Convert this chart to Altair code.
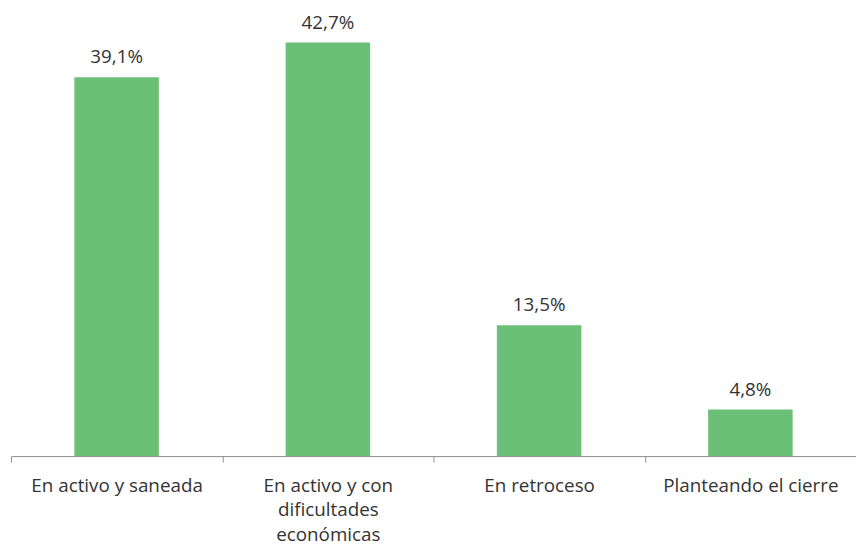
import altair as alt
import pandas as pd

categories = ["En activo y saneada", "En activo y con dificultades económicas", "En retroceso", "Planteando el cierre"]
values = [39.1, 42.7, 13.5, 4.8]
value_labels = ["39,1%", "42,7%", "13,5%", "4,8%"]

df = pd.DataFrame({"cat": categories, "val": values, "lab": value_labels})

W = 854
half_step = W / len(categories) / 2

x = alt.X("cat:N", sort=categories, title=None,
          scale=alt.Scale(paddingInner=0.6, paddingOuter=0.3),
          axis=alt.Axis(labelAngle=0, domainColor="#8c8c8c", tickColor="#8c8c8c",
                        tickSize=6, tickWidth=1, domainWidth=1, tickOffset=-half_step, labelOffset=half_step,
                        labelFont="Open Sans", labelFontSize=19,
                        labelColor="#333333",
                        labelPadding=15, labelLineHeight=24.5, labelBaseline="top", labelLimit=300,
                        labelExpr="datum.label == 'En activo y con dificultades económicas' ? ['En activo y con', 'dificultades', 'económicas'] : datum.label"))
y = alt.Y("val:Q", scale=alt.Scale(domain=[0, 45.25]), axis=None)

bars = alt.Chart(df).mark_bar(color="#6BBF77").encode(x=x, y=y)
text = alt.Chart(df).mark_text(dy=-20, font="Open Sans", fontSize=19, color="#333333").encode(x=x, y=y, text="lab:N")

chart = (bars + text).properties(width=W, height=443, padding={"left": 2, "top": 2, "right": 0, "bottom": 0}).configure_view(stroke=None)
chart.save("out.html", embed_options={"renderer": "svg", "actions": False})
